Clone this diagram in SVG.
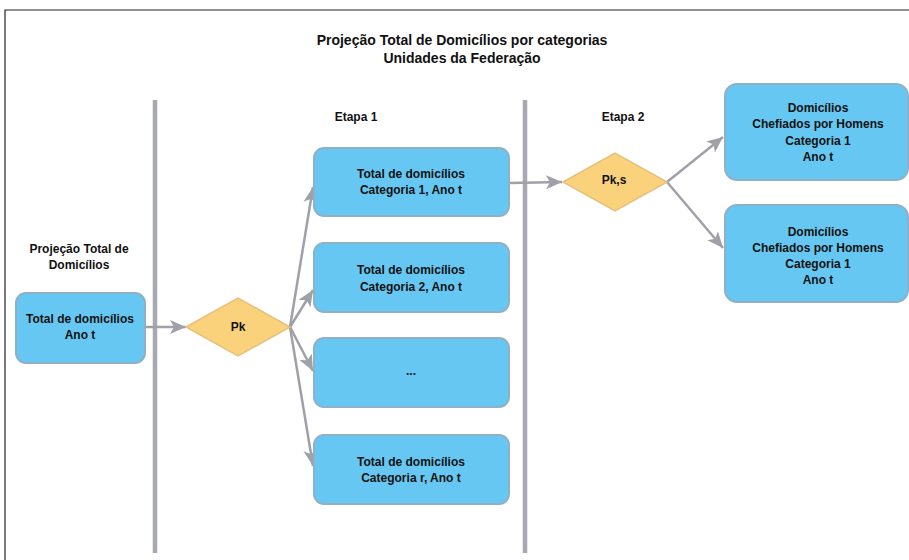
<svg xmlns="http://www.w3.org/2000/svg" width="909" height="560" viewBox="0 0 909 560">
<style>
text{font-family:"Liberation Sans",Arial,sans-serif;font-weight:bold;fill:#111;text-anchor:middle}
.t{font-size:14px}
.s{font-size:12px}
.box{fill:#66c8f2;stroke:#8fb0c6;stroke-width:2}
.dia{fill:#fbd27c;stroke:#e6c07a;stroke-width:1.5}
.vl{stroke:#a9a9b1;stroke-width:4.5}
.ar{stroke:#a0a0a8;stroke-width:2.5;fill:none;marker-end:url(#ah)}
</style>
<defs>
<marker id="ah" markerUnits="userSpaceOnUse" markerWidth="18" markerHeight="14" refX="16" refY="7" orient="auto">
<path d="M0,0 L16,7 L0,14 L4,7 Z" fill="#a0a0a8"/>
</marker>
</defs>
<rect width="909" height="560" fill="#fff"/>
<path d="M5,570 V10 H909" fill="none" stroke="#222" stroke-width="1.2"/>
<g id="title">
<text class="t" x="462" y="45">Projeção Total de Domicílios por categorias</text>
<text class="t" x="462" y="63">Unidades da Federação</text>
</g>
<g id="dividers">
<line class="vl" x1="155" y1="100" x2="155" y2="553"/>
<line class="vl" x1="525" y1="100" x2="525" y2="553"/>
</g>
<g id="labels">
<text class="s" x="79" y="253">Projeção Total de</text>
<text class="s" x="79" y="269">Domicílios</text>
<text class="s" x="356" y="121">Etapa 1</text>
<text class="s" x="623" y="121">Etapa 2</text>
</g>
<g id="connectors">
<line class="ar" x1="145" y1="327" x2="186" y2="327"/>
<line class="ar" x1="290" y1="327" x2="313" y2="187"/>
<line class="ar" x1="290" y1="327" x2="313" y2="290"/>
<line class="ar" x1="290" y1="327" x2="313" y2="371"/>
<line class="ar" x1="290" y1="327" x2="313" y2="466"/>
<line class="ar" x1="510" y1="183" x2="562" y2="182"/>
<line class="ar" x1="667" y1="182" x2="723" y2="137"/>
<line class="ar" x1="667" y1="182" x2="723" y2="248"/>
</g>
<g id="n-total">
<rect class="box" x="16" y="293" width="129" height="70" rx="10"/>
<text class="s" x="80" y="323">Total de domicílios</text>
<text class="s" x="80" y="339">Ano t</text>
</g>
<g id="n-pk">
<polygon class="dia" points="186,327 238,298 290,327 238,356"/>
<text class="s" x="238" y="331">Pk</text>
</g>
<g id="n-cat1">
<rect class="box" x="314" y="148" width="195" height="68" rx="10"/>
<text class="s" x="411" y="178">Total de domicílios</text>
<text class="s" x="411" y="194">Categoria 1, Ano t</text>
</g>
<g id="n-cat2">
<rect class="box" x="314" y="243" width="195" height="69" rx="10"/>
<text class="s" x="411" y="274">Total de domicílios</text>
<text class="s" x="411" y="291">Categoria 2, Ano t</text>
</g>
<g id="n-dots">
<rect class="box" x="314" y="338" width="195" height="69" rx="10"/>
<text class="s" x="411" y="375">...</text>
</g>
<g id="n-catr">
<rect class="box" x="314" y="435" width="195" height="69" rx="10"/>
<text class="s" x="411" y="466">Total de domicílios</text>
<text class="s" x="411" y="482">Categoria r, Ano t</text>
</g>
<g id="n-pks">
<polygon class="dia" points="563,182 615,153 667,182 615,211"/>
<text class="s" x="614" y="184">Pk,s</text>
</g>
<g id="n-homens1">
<rect class="box" x="725" y="84" width="183" height="96" rx="12"/>
<text class="s" x="818" y="112">Domicílios</text>
<text class="s" x="818" y="128">Chefiados por Homens</text>
<text class="s" x="818" y="145">Categoria 1</text>
<text class="s" x="818" y="161">Ano t</text>
</g>
<g id="n-homens2">
<rect class="box" x="725" y="205" width="183" height="97" rx="12"/>
<text class="s" x="818" y="236">Domicílios</text>
<text class="s" x="818" y="252">Chefiados por Homens</text>
<text class="s" x="818" y="268">Categoria 1</text>
<text class="s" x="818" y="284">Ano t</text>
</g>
</svg>
